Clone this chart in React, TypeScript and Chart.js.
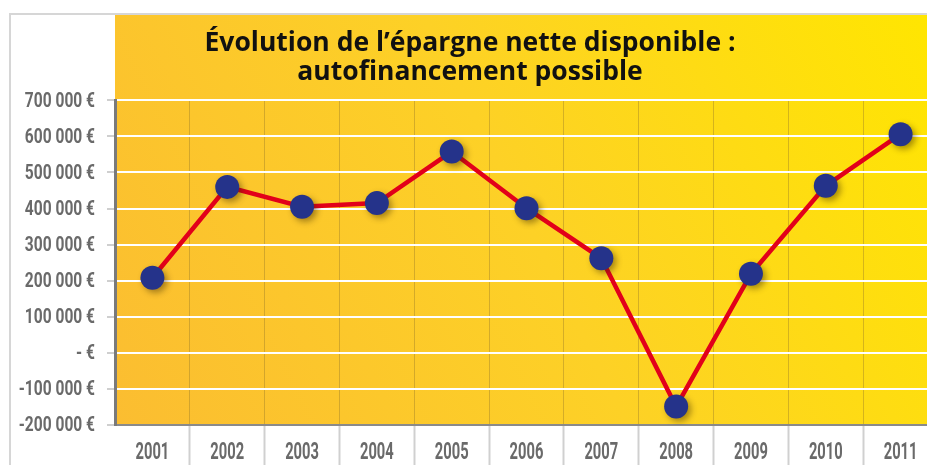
import React, { useEffect, useRef } from "react";
import { Chart, registerables } from "chart.js";

Chart.register(...registerables);

const years = ["2001", "2002", "2003", "2004", "2005", "2006", "2007", "2008", "2009", "2010", "2011"];
const savings = [208000, 460000, 405000, 415000, 558000, 401000, 262000, -149000, 219000, 463000, 606000];
const yTickValues = [-200000, -100000, 0, 100000, 200000, 300000, 400000, 500000, 600000, 700000];
const yTickLabels = ["-200 000 €", "-100 000 €", "- €", "100 000 €", "200 000 €", "300 000 €", "400 000 €", "500 000 €", "600 000 €", "700 000 €"];
const titleLines = ["Évolution de l’épargne nette disponible :", "autofinancement possible"];

const LABEL_FONT_FAMILY = "Roboto, 'DejaVu Sans', sans-serif";
const LABEL_COLOR = "#6a6a6a";

const backgroundPlugin = {
  id: "bgPanel",
  beforeDraw(chart: any) {
    const { ctx, width, height, chartArea } = chart;
    ctx.save();
    ctx.fillStyle = "#ffffff";
    ctx.fillRect(0, 0, width, height);
    // outer light grey frame
    ctx.fillStyle = "#d6d6d6";
    ctx.fillRect(9, 13, 2, height - 13);
    ctx.fillRect(9, 13, width - 9, 2);
    // yellow gradient panel
    const g = ctx.createLinearGradient(chartArea.left, chartArea.bottom, chartArea.right, 15);
    g.addColorStop(0, "#fbbd31");
    g.addColorStop(0.5, "#fdd126");
    g.addColorStop(1, "#ffe600");
    ctx.fillStyle = g;
    ctx.fillRect(chartArea.left, 15, width - chartArea.left, chartArea.bottom - 15);
    ctx.restore();
  },
};

const shadowPlugin = {
  id: "pointShadow",
  beforeDatasetDraw(chart: any, args: any) {
    if (args.index === 0) {
      const ctx = chart.ctx;
      ctx.save();
      ctx.shadowColor = "rgba(60,40,0,0.45)";
      ctx.shadowBlur = 6;
      ctx.shadowOffsetX = 3;
      ctx.shadowOffsetY = 3;
    }
  },
  afterDatasetDraw(chart: any, args: any) {
    if (args.index === 0) chart.ctx.restore();
  },
};

// condensed tick labels (horizontally compressed text)
const condensedLabelsPlugin = {
  id: "condensedLabels",
  afterDraw(chart: any) {
    const { ctx, scales } = chart;
    const ys = scales.y;
    const xs = scales.x;
    ctx.save();
    ctx.fillStyle = LABEL_COLOR;
    ctx.textBaseline = "middle";
    // y labels
    ctx.font = `bold 21px ${LABEL_FONT_FAMILY}`;
    ctx.textAlign = "right";
    yTickValues.forEach((v, i) => {
      const y = ys.getPixelForValue(v);
      ctx.save();
      ctx.translate(ys.right - 20, y + 1);
      ctx.scale(0.74, 1);
      ctx.fillText(yTickLabels[i], 0, 0);
      ctx.restore();
    });
    // x labels
    ctx.font = `bold 23px ${LABEL_FONT_FAMILY}`;
    ctx.textAlign = "center";
    years.forEach((lab, i) => {
      const x = xs.getPixelForValue(i);
      ctx.save();
      ctx.translate(x, xs.top + 28);
      ctx.scale(0.64, 1);
      ctx.fillText(lab, 0, 0);
      ctx.restore();
    });
    ctx.restore();
  },
};

export default function App() {
  const ref = useRef<HTMLCanvasElement | null>(null);

  useEffect(() => {
    if (!ref.current) return;
    const chart = new Chart(ref.current, {
      type: "line",
      data: {
        labels: years,
        datasets: [
          {
            label: "points",
            data: savings,
            showLine: false,
            pointRadius: 12,
            pointHoverRadius: 12,
            pointBackgroundColor: "#25338a",
            pointBorderColor: "#25338a",
            pointBorderWidth: 0,
          },
          {
            label: "line",
            data: savings,
            borderColor: "#e2001a",
            borderWidth: 4.5,
            pointRadius: 0,
            tension: 0,
            fill: false,
          },
        ],
      },
      plugins: [backgroundPlugin, shadowPlugin, condensedLabelsPlugin],
      options: {
        responsive: false,
        animation: false,
        devicePixelRatio: 1,
        layout: { padding: { left: 0, right: 10, top: 0, bottom: 0 } },
        plugins: {
          legend: { display: false },
          tooltip: { enabled: false },
          title: {
            display: true,
            text: titleLines,
            color: "#111111",
            font: { family: '"Open Sans", sans-serif', size: 26.5, weight: "bold", lineHeight: 1.1 },
            padding: { top: 29, bottom: 13 },
          },
        },
        scales: {
          x: {
            type: "category",
            offset: true,
            grid: {
              offset: true,
              color: "rgba(150,120,40,0.4)",
              lineWidth: 1,
              drawTicks: true,
              tickLength: 40,
              tickColor: (ctx: any) => (ctx.index === 0 ? "rgba(0,0,0,0)" : "#d0d0d0"),
              tickWidth: 2,
            },
            border: { display: true, color: "#8a8a8a", width: 2 },
            ticks: { display: false },
            afterFit(scale: any) {
              scale.height = 40;
            },
          },
          y: {
            min: -200000,
            max: 700000,
            afterBuildTicks(scale: any) {
              scale.ticks = yTickValues.map((v) => ({ value: v }));
            },
            grid: {
              color: "#ffffff",
              lineWidth: 2,
              drawTicks: true,
              tickLength: 8,
              tickColor: "#cfcfcf",
            },
            border: { display: true, color: "#7a7a7a", width: 3 },
            ticks: { display: false },
            afterFit(scale: any) {
              scale.width = 115;
            },
          },
        },
      },
    });
    return () => chart.destroy();
  }, []);

  return (
    <div style={{ position: "fixed", left: 0, top: 0, width: 927, height: 465, overflow: "hidden", background: "#fff" }}>
      <canvas ref={ref} width={950} height={465} style={{ display: "block", width: 950, height: 465 }} />
    </div>
  );
}
